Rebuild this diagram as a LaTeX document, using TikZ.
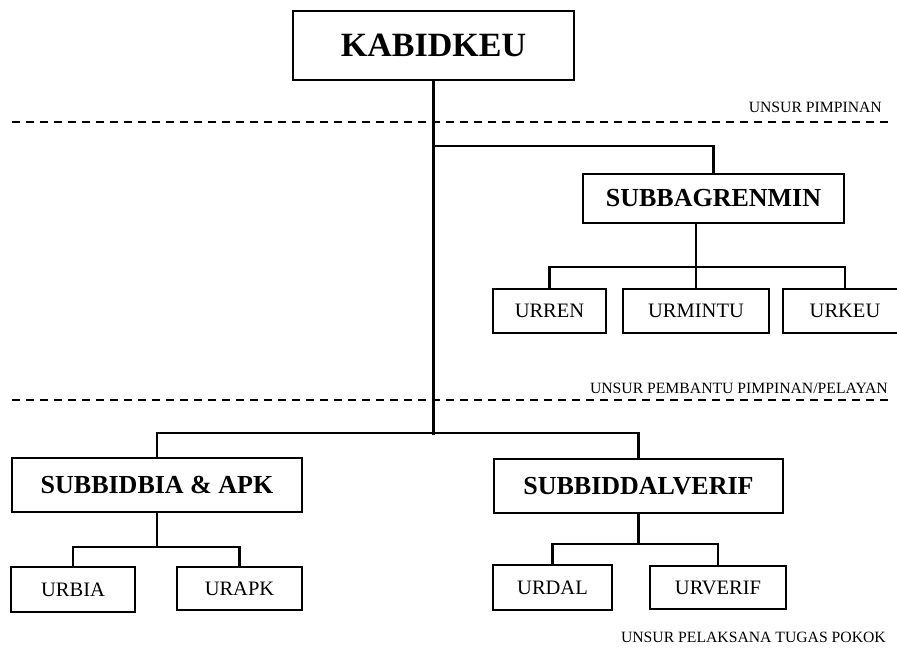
\documentclass[tikz,border=0pt]{standalone}
\usepackage{fontspec}
\setmainfont{Liberation Serif}
\tikzset{
  box/.style={draw, line width=2.6pt, rectangle, inner sep=0pt, align=center},
  bigbox/.style={box, font=\fontsize{34}{40}\selectfont\bfseries},
  midbox/.style={box, font=\fontsize{26}{30}\selectfont\bfseries},
  smallbox/.style={box, font=\fontsize{20.5}{24}\selectfont},
  conn/.style={line width=2.2pt},
  sep/.style={line width=1.5pt, dash pattern=on 8pt off 6pt},
  lbl/.style={anchor=base east, inner sep=0pt, font=\fontsize{15.7}{18}\selectfont}
}
\begin{document}
\begin{tikzpicture}[x=1pt,y=-1pt]
\useasboundingbox (0,0) rectangle (897,662);
\clip (0,0) rectangle (897,662);
% separators
\draw[sep] (12,122) -- (890,122);
\draw[sep] (12,400) -- (890,400);
\node[lbl] (l1) at (882,112) {UNSUR PIMPINAN};
\node[lbl] (l2) at (888,393) {UNSUR PEMBANTU PIMPINAN/PELAYAN};
\node[lbl] (l3) at (886,642) {UNSUR PELAKSANA TUGAS POKOK};
% boxes
\node[bigbox, minimum width=281pt, minimum height=69pt] (kab) at (433.5,45.5) {KABIDKEU};
\node[midbox, minimum width=261pt, minimum height=49pt] (sren) at (713.5,198.5) {SUBBAGRENMIN};
\node[smallbox, minimum width=113pt, minimum height=44pt] (urren) at (549.5,311) {URREN};
\node[smallbox, minimum width=146pt, minimum height=44pt] (urmin) at (696,311) {URMINTU};
\node[smallbox, minimum width=124pt, minimum height=44pt] (urkeu) at (845,311) {URKEU};
\node[midbox, minimum width=290pt, minimum height=54pt] (sbia) at (157,485) {SUBBIDBIA \& APK};
\node[smallbox, minimum width=124pt, minimum height=45pt] (urbia) at (73,589.5) {URBIA};
\node[smallbox, minimum width=125pt, minimum height=43pt] (urapk) at (239.5,588.5) {URAPK};
\node[midbox, minimum width=289pt, minimum height=54pt] (sdal) at (638.5,486) {SUBBIDDALVERIF};
\node[smallbox, minimum width=119pt, minimum height=45pt] (urdal) at (552.5,587.5) {URDAL};
\node[smallbox, minimum width=136pt, minimum height=43pt] (urver) at (718,587.5) {URVERIF};
% junction coordinates
\coordinate (mainend) at (433.5,435);
\coordinate (j1) at (433.5,146);
\coordinate (j2) at (433.5,433);
\coordinate (srenout) at (696,223);
\coordinate (j3) at (696,267);
\coordinate (j4) at (157,547);
\coordinate (j5) at (638.5,544);
% connectors
\draw[conn] (kab.south) -- (mainend);
\draw[conn] (j1) -| (sren.north);
\draw[conn] (sbia.north) |- (j2) -| (sdal.north);
\draw[conn] (srenout) -- (j3);
\draw[conn] (urren.north) |- (j3) -| (urkeu.north);
\draw[conn] (j3) -- (urmin.north);
\draw[conn] (sbia.south) -- (j4);
\draw[conn] (urbia.north) |- (j4) -| (urapk.north);
\draw[conn] (sdal.south) -- (j5);
\draw[conn] (urdal.north) |- (j5) -| (urver.north);
\end{tikzpicture}
\end{document}
